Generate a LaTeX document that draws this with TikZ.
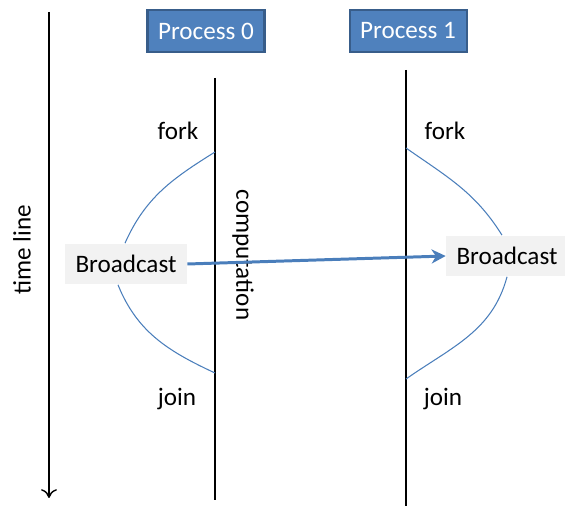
\documentclass[tikz,border=0pt]{standalone}
\usepackage{fontspec}
\setmainfont{Carlito}
\usetikzlibrary{arrows.meta, positioning}
\definecolor{procfill}{HTML}{4F81BD}
\definecolor{procdraw}{HTML}{385D8A}
\definecolor{msgblue}{HTML}{4A7EBB}
\definecolor{bcfill}{HTML}{F2F2F2}

\begin{document}
\begin{tikzpicture}[
  x=0.02cm, y=-0.02cm,
  every node/.style={font=\fontsize{14.3}{16}\selectfont},
  proc/.style={rectangle, draw=procdraw, line width=1.2pt, fill=procfill, text=white, minimum width=2.34cm, minimum height=0.84cm, inner sep=0pt},
  bcast/.style={rectangle, fill=bcfill, minimum width=2.44cm, minimum height=0.82cm, inner sep=0pt},
  label/.style={inner sep=0pt},
  life/.style={draw=black, line width=0.8pt},
  branch/.style={draw=msgblue, line width=0.6pt},
  msg/.style={draw=msgblue, line width=1.7pt, -{Stealth[length=8pt,width=8pt,inset=2.5pt]}}
]
\useasboundingbox (0,0) rectangle (565,506);

% time line
\coordinate (ttop) at (49,12);
\coordinate (tbot) at (49,498);
\draw[line width=0.8pt, -{To[length=5pt,width=9pt]}] (ttop) -- (tbot);
\node[label, rotate=90] (tlabel) at (22,250) {time line};

% processes
\node[proc] (proc0) at (206,31) {Process 0};
\node[proc, right=1.66cm of proc0] (proc1) {Process 1};

% life lines
\coordinate (p0top) at (215,78);
\coordinate (p0bot) at (215,500);
\coordinate (p1top) at (406,70);
\coordinate (p1bot) at (406,506);
\draw[life] (p0top) -- (p0bot);
\draw[life] (p1top) -- (p1bot);

% fork / join points
\coordinate (fork0) at (215,152);
\coordinate (join0) at (215,373);
\coordinate (fork1) at (406,148);
\coordinate (join1) at (406,379);

\node[label] (forklab0) at (178,131) {fork};
\node[label] (joinlab0) at (177,399) {join};
\node[label] (forklab1) at (445,131) {fork};
\node[label] (joinlab1) at (443,399) {join};
\node[label, rotate=-90] (comp) at (243,255) {computation};

% broadcast threads
\node[bcast] (bc0) at (126,264) {Broadcast};
\node[bcast] (bc1) at (507,256) {Broadcast};

\draw[branch] (fork0) to[out=212, in=66] ([xshift=-0.02cm]bc0.north);
\draw[branch] ([xshift=-0.16cm]bc0.south) to[out=-68, in=155] (join0);
\draw[branch] (fork1) to[out=-35, in=122] ([xshift=-0.1cm]bc1.north);
\draw[branch] (bc1.south) to[out=-105, in=35] (join1);

% message
\draw[msg] (bc0.east) -- (bc1.west);
\end{tikzpicture}
\end{document}
